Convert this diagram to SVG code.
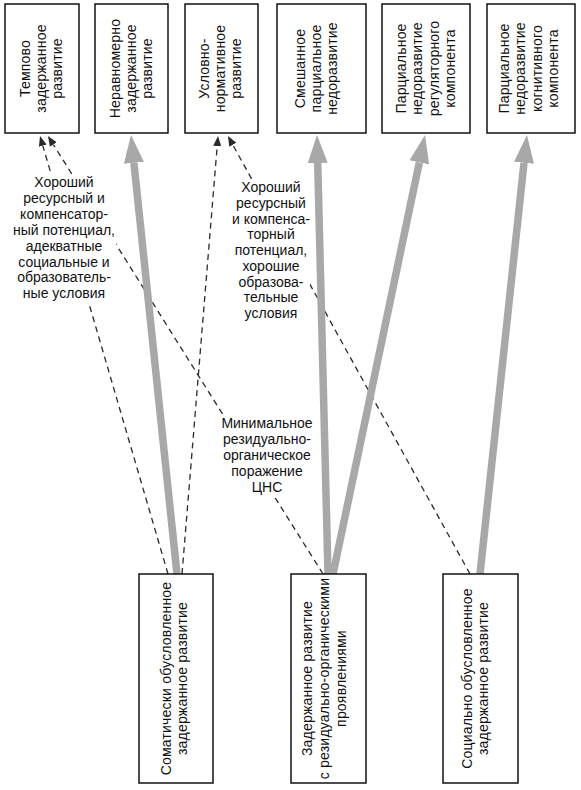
<svg xmlns="http://www.w3.org/2000/svg" width="581" height="790" viewBox="0 0 581 790">
<defs>
<style>
.box{fill:#fff;stroke:#000;stroke-width:1.4}
.t{font-family:"Liberation Sans",Arial,sans-serif;font-size:14px;fill:#111;text-anchor:middle;letter-spacing:0.2px}
.lb{font-family:"Liberation Sans",Arial,sans-serif;font-size:14px;fill:#111;text-anchor:middle}
.thick{stroke:#a8a8a8;stroke-width:7.5;fill:none}
.dash{stroke:#2a2a2a;stroke-width:1.3;stroke-dasharray:6 4.5;fill:none}
.bg{fill:#fff;stroke:none}
</style>
<marker id="gh" markerUnits="userSpaceOnUse" markerWidth="30" markerHeight="22" viewBox="0 -11 30 22" refX="0" refY="0" orient="auto">
<path d="M0,-10 L28,0 L0,10 Z" fill="#a8a8a8"/>
</marker>
<marker id="dh" markerUnits="userSpaceOnUse" markerWidth="12" markerHeight="10" viewBox="0 -5 12 10" refX="0" refY="0" orient="auto">
<path d="M0,-4 L10,0 L0,4 Z" fill="#2a2a2a"/>
</marker>
</defs>
<rect width="581" height="790" fill="#fff"/>

<g id="connectors">
<line class="dash" x1="168" y1="574" x2="42.8" y2="145.6" marker-end="url(#dh)"/>
<line class="dash" x1="323" y1="574" x2="53.3" y2="144.5" marker-end="url(#dh)"/>
<line class="dash" x1="182" y1="574" x2="217.2" y2="146" marker-end="url(#dh)"/>
<line class="dash" x1="470" y1="574" x2="232.8" y2="144.8" marker-end="url(#dh)"/>
<line class="thick" x1="177" y1="574" x2="133.9" y2="162.8" marker-end="url(#gh)"/>
<line class="thick" x1="328" y1="574" x2="317.7" y2="163" marker-end="url(#gh)"/>
<line class="thick" x1="333" y1="574" x2="419.3" y2="162.4" marker-end="url(#gh)"/>
<line class="thick" x1="480" y1="574" x2="524" y2="162.8" marker-end="url(#gh)"/>
</g>

<g id="labels">
<g id="label1">
<rect class="bg" x="13" y="175" width="103" height="129"/>
<text class="lb" x="64" y="187">Хороший</text>
<text class="lb" x="64" y="202.9">ресурсный и</text>
<text class="lb" x="64" y="218.8">компенсатор-</text>
<text class="lb" x="64" y="234.7">ный потенциал,</text>
<text class="lb" x="64" y="250.6">адекватные</text>
<text class="lb" x="64" y="266.5">социальные и</text>
<text class="lb" x="64" y="282.4">образователь-</text>
<text class="lb" x="64" y="298.3">ные условия</text>
</g>
<g id="label2">
<rect class="bg" x="232" y="180" width="78" height="143"/>
<text class="lb" x="271" y="192">Хороший</text>
<text class="lb" x="271" y="207.75">ресурсный</text>
<text class="lb" x="271" y="223.5">и компенса-</text>
<text class="lb" x="271" y="239.25">торный</text>
<text class="lb" x="271" y="255">потенциал,</text>
<text class="lb" x="271" y="270.75">хорошие</text>
<text class="lb" x="271" y="286.5">образова-</text>
<text class="lb" x="271" y="302.25">тельные</text>
<text class="lb" x="271" y="318">условия</text>
</g>
<g id="label3">
<rect class="bg" x="221" y="416" width="93" height="82"/>
<text class="lb" x="267" y="428">Минимальное</text>
<text class="lb" x="267" y="444">резидуально-</text>
<text class="lb" x="267" y="460">органическое</text>
<text class="lb" x="267" y="476">поражение</text>
<text class="lb" x="267" y="492">ЦНС</text>
</g>
</g>

<g id="n1">
<rect class="box" x="5" y="4" width="74" height="129"/>
<text class="t" x="29.5" y="68.5" transform="rotate(-90 29.5 68.5)">Темпово</text>
<text class="t" x="45.5" y="68.5" transform="rotate(-90 45.5 68.5)">задержанное</text>
<text class="t" x="61.5" y="68.5" transform="rotate(-90 61.5 68.5)">развитие</text>
</g>
<g id="n2">
<rect class="box" x="95" y="4" width="73" height="129"/>
<text class="t" x="120" y="68.5" transform="rotate(-90 120 68.5)">Неравномерно</text>
<text class="t" x="136" y="68.5" transform="rotate(-90 136 68.5)">задержанное</text>
<text class="t" x="152" y="68.5" transform="rotate(-90 152 68.5)">развитие</text>
</g>
<g id="n3">
<rect class="box" x="185" y="4" width="73" height="129"/>
<text class="t" x="209" y="68.5" transform="rotate(-90 209 68.5)">Условно-</text>
<text class="t" x="225" y="68.5" transform="rotate(-90 225 68.5)">нормативное</text>
<text class="t" x="241" y="68.5" transform="rotate(-90 241 68.5)">развитие</text>
</g>
<g id="n4">
<rect class="box" x="277" y="4" width="89" height="129"/>
<text class="t" x="305" y="68.5" transform="rotate(-90 305 68.5)">Смешанное</text>
<text class="t" x="321" y="68.5" transform="rotate(-90 321 68.5)">парциальное</text>
<text class="t" x="337" y="68.5" transform="rotate(-90 337 68.5)">недоразвитие</text>
</g>
<g id="n5">
<rect class="box" x="382" y="4" width="88" height="129"/>
<text class="t" x="405.7" y="68.5" transform="rotate(-90 405.7 68.5)">Парциальное</text>
<text class="t" x="422.2" y="68.5" transform="rotate(-90 422.2 68.5)">недоразвитие</text>
<text class="t" x="438.7" y="68.5" transform="rotate(-90 438.7 68.5)">регуляторного</text>
<text class="t" x="455.2" y="68.5" transform="rotate(-90 455.2 68.5)">компонента</text>
</g>
<g id="n6">
<rect class="box" x="487" y="4" width="88" height="129"/>
<text class="t" x="508.7" y="68.5" transform="rotate(-90 508.7 68.5)">Парциальное</text>
<text class="t" x="525.2" y="68.5" transform="rotate(-90 525.2 68.5)">недоразвитие</text>
<text class="t" x="541.7" y="68.5" transform="rotate(-90 541.7 68.5)">когнитивного</text>
<text class="t" x="558.2" y="68.5" transform="rotate(-90 558.2 68.5)">компонента</text>
</g>

<g id="nA">
<rect class="box" x="139" y="574" width="74" height="209"/>
<text class="t" x="171" y="678.5" transform="rotate(-90 171 678.5)">Соматически обусловленное</text>
<text class="t" x="187" y="678.5" transform="rotate(-90 187 678.5)">задержанное развитие</text>
</g>
<g id="nB">
<rect class="box" x="291" y="574" width="75" height="209"/>
<text class="t" x="311.7" y="678.5" transform="rotate(-90 311.7 678.5)">Задержанное развитие</text>
<text class="t" x="328.7" y="678.5" transform="rotate(-90 328.7 678.5)">с резидуально-органическими</text>
<text class="t" x="345.7" y="678.5" transform="rotate(-90 345.7 678.5)">проявлениями</text>
</g>
<g id="nC">
<rect class="box" x="443" y="574" width="75" height="209"/>
<text class="t" x="472" y="678.5" transform="rotate(-90 472 678.5)">Социально обусловленное</text>
<text class="t" x="488" y="678.5" transform="rotate(-90 488 678.5)">задержанное развитие</text>
</g>
</svg>
